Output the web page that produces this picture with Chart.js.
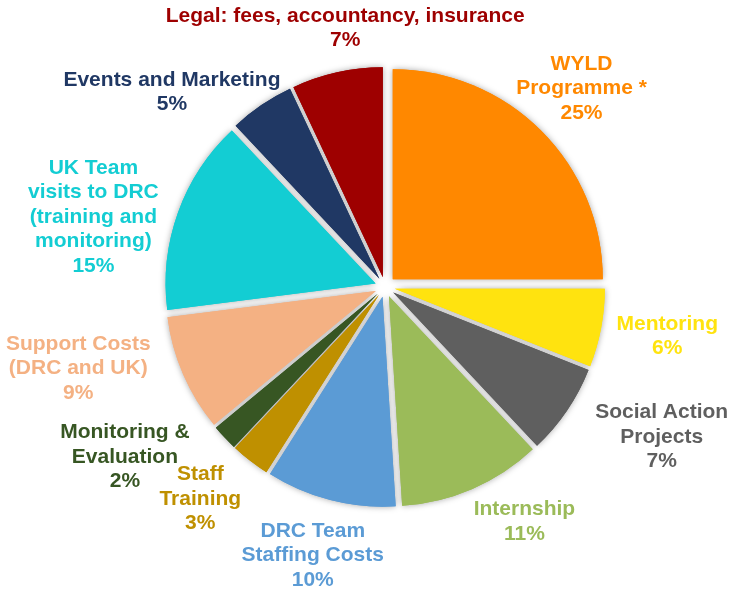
<!DOCTYPE html>
<html>
<head>
<meta charset="utf-8">
<script src="https://cdn.jsdelivr.net/npm/chart.js@4.4.1/dist/chart.umd.min.js"></script>
<style>
  html, body { margin: 0; padding: 0; background: #fff; }
  #wrap { width: 729px; height: 590px; }
</style>
</head>
<body>
<div id="wrap"><canvas id="pie" width="729" height="590"></canvas></div>
<script>
// slice names, one entry per line of the label
const categories = [
  ['WYLD', 'Programme *'],
  ['Mentoring'],
  ['Social Action', 'Projects'],
  ['Internship'],
  ['DRC Team', 'Staffing Costs'],
  ['Staff', 'Training'],
  ['Monitoring &', 'Evaluation'],
  ['Support Costs', '(DRC and UK)'],
  ['UK Team', 'visits to DRC', '(training and', 'monitoring)'],
  ['Events and Marketing'],
  ['Legal: fees, accountancy, insurance']
];
// percentage of budget
const shares = [25, 6, 7, 11, 10, 3, 2, 9, 15, 5, 7];

const sliceColors = ['#FF8800', '#FFE30F', '#5F5F5F', '#9BBB59', '#5B9BD5', '#BF9000',
                     '#375623', '#F4B183', '#13CDD3', '#203864', '#9E0000'];
// how far each slice is pulled out from the centre (px)
const explode = [11, 10, 10, 10, 10, 10, 10, 10, 10, 10, 10];
// label nudges from the middle of each slice's rim (px)
const labelNudge = [[48, -50], [76, 10], [103, 32], [56, 42], [-20, 65], [-56, 46],
                    [-107, 26], [-114, -2], [-94, 1], [-95, -21], [6, -54]];

// draw the arcs ourselves so each one can be pulled out by a fixed distance
const explodePlugin = {
  id: 'explode',
  beforeDatasetDraw(chart, args) {
    const ctx = chart.ctx;
    const arcs = args.meta.data;
    // pass 1 with a soft shadow, pass 2 clean on top
    [true, false].forEach(shadow => {
      arcs.forEach((arc, i) => {
        const mid = (arc.startAngle + arc.endAngle) / 2;
        ctx.save();
        if (shadow) {
          ctx.shadowColor = 'rgba(0,0,0,0.35)';
          ctx.shadowBlur = 6;
        }
        ctx.translate(Math.cos(mid) * explode[i], Math.sin(mid) * explode[i]);
        arc.draw(ctx);
        ctx.restore();
      });
    });
    return false;
  }
};

// coloured labels outside the pie
const outsideLabels = {
  id: 'outsideLabels',
  afterDatasetsDraw(chart) {
    const ctx = chart.ctx;
    const arcs = chart.getDatasetMeta(0).data;
    const lineH = 24.5;
    ctx.save();
    ctx.font = 'bold 21px "Liberation Sans", Arial, sans-serif';
    ctx.textAlign = 'center';
    ctx.textBaseline = 'middle';
    arcs.forEach((arc, i) => {
      const mid = (arc.startAngle + arc.endAngle) / 2;
      const x = arc.x + Math.cos(mid) * arc.outerRadius + labelNudge[i][0];
      const y = arc.y + Math.sin(mid) * arc.outerRadius + labelNudge[i][1];
      const lines = categories[i].concat([shares[i] + '%']);
      const top = y - (lines.length - 1) * lineH / 2;
      ctx.fillStyle = sliceColors[i];
      lines.forEach((t, k) => ctx.fillText(t, x, top + k * lineH));
    });
    ctx.restore();
  }
};

new Chart(document.getElementById('pie'), {
  type: 'pie',
  data: {
    labels: categories.map(c => c.join(' ')),
    datasets: [{
      data: shares,
      backgroundColor: sliceColors,
      borderWidth: 0
    }]
  },
  options: {
    responsive: false,
    animation: false,
    events: [],
    radius: 210,
    layout: { padding: { left: 155, right: 114, top: 57, bottom: 73 } },
    plugins: {
      legend: { display: false },
      tooltip: { enabled: false }
    }
  },
  plugins: [explodePlugin, outsideLabels]
});
</script>
</body>
</html>
